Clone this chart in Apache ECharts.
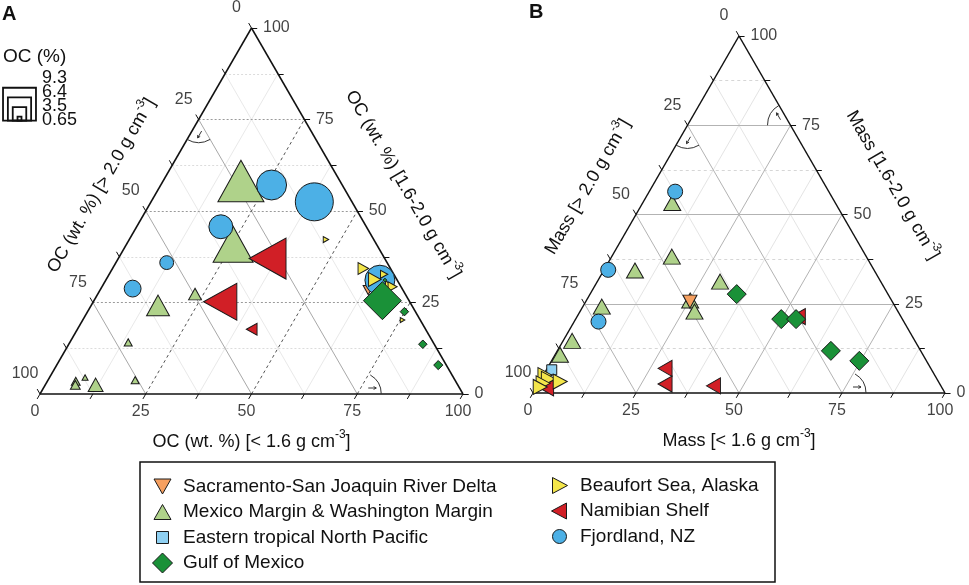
<!DOCTYPE html>
<html><head><meta charset="utf-8">
<script src="https://cdn.jsdelivr.net/npm/echarts@6/dist/echarts.min.js"></script>
<style>html,body{margin:0;padding:0;background:#fff}#c{width:969px;height:585px}</style>
</head><body><div id="c"></div>
<script>
// ---------- DATA ----------
// Panel A items: [<1.6 g cm-3 (bottom), >2.0 g cm-3 (left), 1.6-2.0 g cm-3 (right), OC %]
const A_sacramento = [[63.4, 8.2, 28.4, 2.5]];
const A_mexico = [
  [18.4, 23.4, 58.2, 13.2], [25.2, 33.9, 40.9, 11.4], [15.8, 60.0, 24.2, 6.3],
  [23.0, 49.7, 27.3, 3.3], [13.8, 72.1, 14.1, 1.85], [20.6, 75.6, 3.8, 1.85],
  [6.7, 89.8, 3.5, 2.1], [7.1, 90.4, 2.5, 2.4], [8.4, 87.1, 4.5, 1.25], [11.9, 85.6, 2.5, 3.9]
];
const A_etnp = [];
const A_gulf = [
  [68.2, 6.3, 25.5, 10.8], [74.9, 2.6, 22.5, 2.0], [83.7, 2.7, 13.6, 2.0],
  [90.2, 1.9, 7.9, 2.2], [66.0, 2.9, 31.1, 0.65]
];
const A_beaufort = [
  [46.5, 11.3, 42.2, 1.25], [59.3, 6.4, 34.3, 3.0], [63.5, 5.2, 31.3, 3.6],
  [65.0, 2.3, 32.7, 1.85], [68.0, 2.5, 29.5, 2.45], [68.7, 2.0, 29.3, 2.45], [75.6, 4.2, 20.2, 0.95]
];
const A_namibian = [[30.0, 44.8, 25.2, 10.5], [35.3, 27.7, 37.0, 11.7], [41.2, 41.1, 17.7, 3.0]];
const A_fjordland = [
  [26.2, 16.7, 57.1, 8.4], [38.6, 8.9, 52.5, 10.8], [19.9, 34.4, 45.7, 6.6],
  [12.0, 52.1, 35.9, 3.6], [7.5, 63.7, 28.8, 4.5], [64.8, 4.1, 31.1, 8.4]
];
// Panel B items: [<1.6 g cm-3 (bottom), >2.0 g cm-3 (left), 1.6-2.0 g cm-3 (right)] (mass %)
const B_sacramento = [[25.3, 49.1, 25.6]];
const B_mexico = [
  [7.2, 39.6, 53.2], [14.6, 47.2, 38.2], [7.6, 58.1, 34.3], [29.8, 39.0, 31.2], [4.6, 71.2, 24.2],
  [25.2, 48.9, 25.9], [27.8, 49.4, 22.8], [2.2, 83.2, 14.6], [1.2, 88.1, 10.7]
];
const B_etnp = [[1.3, 92.2, 6.5]];
const B_gulf = [[35.6, 36.7, 27.7], [49.9, 29.4, 20.7], [53.5, 25.8, 20.7], [66.4, 21.8, 11.8], [74.7, 16.3, 9.0]];
const B_beaufort = [[0.4, 94.6, 5.0], [1.75, 94.3, 3.95], [1.1, 96.2, 2.7], [5.0, 91.8, 3.2], [0.9, 97.4, 1.7]];
const B_namibian = [[28.6, 64.5, 6.9], [30.8, 66.7, 2.5], [42.8, 55.2, 2.0], [2.6, 96.0, 1.4], [53.7, 24.9, 21.4]];
const B_fjordland = [[6.3, 37.3, 56.4], [1.0, 64.5, 34.5], [5.9, 74.1, 20.0]];

const tickLabels = ['0', '25', '50', '75', '100'];
const tickValues = [0, 25, 50, 75, 100];
const minorTickValues = [12.5, 37.5, 62.5, 87.5];
const ocLegendValues = [9.3, 6.4, 3.5, 0.65];
const seriesNames = ['Sacramento-San Joaquin River Delta', 'Mexico Margin & Washington Margin',
  'Eastern tropical North Pacific', 'Gulf of Mexico', 'Beaufort Sea, Alaska', 'Namibian Shelf', 'Fjordland, NZ'];

// ---------- HELPERS ----------
const S = Math.sqrt(3) / 2;
function tern(a, c) { return [a + c / 2, c * S]; }
function ocSize(oc) { return 1.8 + 3.35 * oc; }
const FONT = "Arial, 'Liberation Sans', Helvetica, sans-serif";

const SYM = {
  up: 'path://M5,0 L10,9 L0,9 Z',
  down: 'path://M0,0 L10,0 L5,9 Z',
  left: 'path://M0,5 L9,0 L9,10 Z',
  right: 'path://M9,5 L0,0 L0,10 Z',
  diamond: 'path://M5,0 L10,5 L5,10 L0,5 Z',
  rect: 'rect',
  circle: 'circle'
};
const LEG_ICON = {
  down: 'path://M0,0 M20,20 M1.5,2.5 L18.5,2.5 L10,17.5 Z',
  up: 'path://M0,0 M20,20 M10,2.5 L18.5,17.5 L1.5,17.5 Z',
  rect: 'path://M0,0 M20,20 M4,4 L16,4 L16,16 L4,16 Z',
  diamond: 'path://M10,0 L20,10 L10,20 L0,10 Z',
  right: 'path://M0,0 M20,20 M3,2 L18,10 L3,18 Z',
  left: 'path://M0,0 M20,20 M2,10 L17,2 L17,18 Z',
  circle: 'path://M0,0 M20,20 M3,10 A7,7 0 1,1 17,10 A7,7 0 1,1 3,10 Z'
};
const groups = {
  sac: { name: seriesNames[0], color: '#f6a060', shape: 'down', A: A_sacramento, B: B_sacramento, bs: [14, 13] },
  mex: { name: seriesNames[1], color: '#afd28a', shape: 'up', A: A_mexico, B: B_mexico, bs: [17, 15] },
  etnp: { name: seriesNames[2], color: '#8fd0f2', shape: 'rect', A: A_etnp, B: B_etnp, bs: [10, 10] },
  gulf: { name: seriesNames[3], color: '#1a9138', shape: 'diamond', A: A_gulf, B: B_gulf, bs: [19, 19] },
  beau: { name: seriesNames[4], color: '#f4e64a', shape: 'right', A: A_beaufort, B: B_beaufort, bs: [14, 15] },
  nam: { name: seriesNames[5], color: '#d11f26', shape: 'left', A: A_namibian, B: B_namibian, bs: [14, 16] },
  fjord: { name: seriesNames[6], color: '#4cb0e6', shape: 'circle', A: A_fjordland, B: B_fjordland, bs: [15, 15] }
};
const drawOrder = ['mex', 'nam', 'sac', 'fjord', 'etnp', 'beau', 'gulf'];

function aspect(shape, s) {
  if (shape === 'up' || shape === 'down') return [s, s * 0.9];
  if (shape === 'left' || shape === 'right') return [s * 0.9, s];
  return [s, s];
}

const series = [];
function addLines(gi, data, color, type, width, z) {
  series.push({
    type: 'lines', coordinateSystem: 'cartesian2d', xAxisIndex: gi, yAxisIndex: gi,
    silent: true, clip: false, z: z || 1, animation: false,
    lineStyle: { color: color, width: width, type: type, opacity: 1 },
    data: data
  });
}
function gl(level, dir) {
  if (dir === 'c') return { coords: [tern(0, level), tern(100 - level, level)] };
  if (dir === 'a') return { coords: [tern(level, 0), tern(level, 100 - level)] };
  return { coords: [tern(100 - level, 0), tern(0, 100 - level)] };
}
const majorLv = [25, 50, 75];
const minorLv = [12.5, 37.5, 62.5, 87.5];

// Panel A grid
addLines(0, minorLv.map(v => gl(v, 'a')).concat(minorLv.map(v => gl(v, 'b'))), '#e9e9e9', 'solid', 1);
addLines(0, minorLv.map(v => gl(v, 'c')), '#dcdcdc', [2, 2], 1);
addLines(0, majorLv.map(v => gl(v, 'c')), '#9a9a9a', [2, 2], 1);
addLines(0, majorLv.map(v => gl(v, 'b')), '#a8a8a8', 'solid', 1);
addLines(0, majorLv.map(v => gl(v, 'a')), '#555555', [3, 3], 1);
// Panel B grid
addLines(1, minorLv.map(v => gl(v, 'a')).concat(minorLv.map(v => gl(v, 'b'))), '#e4e4e4', 'solid', 1);
addLines(1, minorLv.map(v => gl(v, 'c')), '#d6d6d6', [3, 3], 1);
addLines(1, majorLv.map(v => gl(v, 'a')).concat(majorLv.map(v => gl(v, 'b')), majorLv.map(v => gl(v, 'c'))), '#b3b3b3', 'solid', 1);

// Outline + ticks
const TL = 1.35;
for (let gi = 0; gi < 2; gi++) {
  addLines(gi, [
    { coords: [tern(0, 0), tern(100, 0)] },
    { coords: [tern(100, 0), tern(0, 100)] },
    { coords: [tern(0, 100), tern(0, 0)] }
  ], '#111', 'solid', 1.5, 3);
  const tk = [];
  tickValues.concat(minorTickValues).forEach(v => {
    const pb = tern(v, 0); tk.push({ coords: [pb, [pb[0] - 0.5 * TL, pb[1] - S * TL]] });
    const pl = tern(0, 100 - v); tk.push({ coords: [pl, [pl[0] - 0.5 * TL, pl[1] + S * TL]] });
    const pr = tern(100 - v, v); tk.push({ coords: [pr, [pr[0] + TL, pr[1]]] });
  });
  addLines(gi, tk, '#111', 'solid', 1, 3);
  // tick labels
  const lblStyle = { show: true, formatter: '{b}', fontSize: 16, color: '#111', fontFamily: FONT };
  series.push({
    type: 'scatter', xAxisIndex: gi, yAxisIndex: gi, clip: false, silent: true, symbol: 'circle', symbolSize: 1,
    itemStyle: { color: 'rgba(0,0,0,0)' }, z: 4,
    label: Object.assign({}, lblStyle, { position: 'inside', offset: [-5, 18] }),
    data: tickValues.map((v, i) => ({ name: tickLabels[i], value: tern(v, 0) }))
  });
  series.push({
    type: 'scatter', xAxisIndex: gi, yAxisIndex: gi, clip: false, silent: true, symbol: 'circle', symbolSize: 1,
    itemStyle: { color: 'rgba(0,0,0,0)' }, z: 4,
    label: Object.assign({}, lblStyle, { position: 'inside', offset: [-15, -20] }),
    data: tickValues.map((v, i) => ({ name: tickLabels[i], value: tern(0, 100 - v) }))
  });
  series.push({
    type: 'scatter', xAxisIndex: gi, yAxisIndex: gi, clip: false, silent: true, symbol: 'circle', symbolSize: 1,
    itemStyle: { color: 'rgba(0,0,0,0)' }, z: 4,
    label: Object.assign({}, lblStyle, { position: 'right', distance: 11 }),
    data: tickValues.map((v, i) => ({ name: tickLabels[i], value: tern(100 - v, v) }))
  });
}

// Markers
drawOrder.forEach(k => {
  const g = groups[k];
  series.push({
    name: g.name, type: 'scatter', xAxisIndex: 0, yAxisIndex: 0, clip: false, z: 5,
    symbol: SYM[g.shape],
    symbolSize: v => aspect(g.shape, ocSize(v[2])),
    itemStyle: { color: g.color, borderColor: '#1a1a1a', borderWidth: 1, opacity: 1 },
    data: g.A.map(d => tern(d[0], d[2]).concat([d[3]]))
  });
  series.push({
    name: g.name, type: 'scatter', xAxisIndex: 1, yAxisIndex: 1, clip: false, z: 5,
    symbol: SYM[g.shape], symbolSize: g.bs,
    itemStyle: { color: g.color, borderColor: '#1a1a1a', borderWidth: 1, opacity: 1 },
    data: g.B.map(d => tern(d[0], d[2]))
  });
});

const legendKeys1 = ['sac', 'mex', 'etnp', 'gulf'];
const legendKeys2 = ['beau', 'nam', 'fjord'];
function legendCfg(keys, left, top) {
  return {
    orient: 'vertical', left: left, top: top, padding: 0, itemWidth: 31, itemHeight: 20, itemGap: 4.5,
    selectedMode: false, symbolKeepAspect: true,
    itemStyle: { borderColor: '#1a1a1a', borderWidth: 1 },
    textStyle: { fontSize: 19, color: '#111', fontFamily: FONT },
    data: keys.map(k => ({ name: groups[k].name, icon: LEG_ICON[groups[k].shape] }))
  };
}

const axisCommon = { show: false, min: 0, splitLine: { show: false } };
const option = {
  animation: false,
  backgroundColor: '#fff',
  grid: [
    { left: 40, top: 28, width: 423, height: 366 },
    { left: 533, top: 36, width: 412, height: 357 }
  ],
  xAxis: [Object.assign({ type: 'value', max: 100, gridIndex: 0 }, axisCommon), Object.assign({ type: 'value', max: 100, gridIndex: 1 }, axisCommon)],
  yAxis: [Object.assign({ type: 'value', max: 100 * S, gridIndex: 0 }, axisCommon), Object.assign({ type: 'value', max: 100 * S, gridIndex: 1 }, axisCommon)],
  legend: [legendCfg(legendKeys1, 152, 476), legendCfg(legendKeys2, 549, 475)],
  series: series
};

const chart = echarts.init(document.getElementById('c'), null, { renderer: 'canvas' });
chart.setOption(option);

// ---------- Decorations (positions derived from the axes) ----------
function px(gi, a, c) { return chart.convertToPixel({ gridIndex: gi }, tern(a, c)); }
const g = [];
const supRich = { s: { fontSize: 12, verticalAlign: 'top', lineHeight: 12, fontFamily: FONT, fill: '#111' } };
function title(x, y, rot, text) {
  g.push({ type: 'text', x: x, y: y, rotation: rot, z: 10,
    style: { text: text, fontSize: 18, lineHeight: 26, fontFamily: FONT, fill: '#111', align: 'center', verticalAlign: 'middle', rich: supRich } });
}
const titles = [
  ['OC (wt. %) [< 1.6 g cm{s|-3}]', 'OC (wt. %) [> 2.0 g cm{s|-3}]', 'OC (wt. %) [1.6-2.0 g cm{s|-3}]', 51, 53],
  ['Mass [< 1.6 g cm{s|-3}]', 'Mass [> 2.0 g cm{s|-3}]', 'Mass [1.6-2.0 g cm{s|-3}]', 55.5, 58.5]
];
for (let gi = 0; gi < 2; gi++) {
  const t = titles[gi];
  const pb = px(gi, 50, 0); title(pb[0], pb[1] + 48, 0, t[0]);
  const pl = px(gi, 0, 50); title(pl[0] - S * t[3], pl[1] - 0.5 * t[3], Math.PI / 3, t[1]);
  const pr = px(gi, 50, 50); title(pr[0] + S * t[4], pr[1] - 0.5 * t[4], -Math.PI / 3, t[2]);
}
function arc(cx, cy, r, s, e) {
  g.push({ type: 'arc', z: 10, shape: { cx: cx, cy: cy, r: r, startAngle: s * Math.PI / 180, endAngle: e * Math.PI / 180, clockwise: true },
    style: { stroke: '#333', fill: null, lineWidth: 1 } });
}
function arrow(x, y, angDeg, len) {
  const a = angDeg * Math.PI / 180, dx = Math.cos(a), dy = Math.sin(a);
  const x1 = x - dx * len / 2, y1 = y - dy * len / 2, x2 = x + dx * len / 2, y2 = y + dy * len / 2;
  const h = 3, w = 0.5;
  g.push({ type: 'polyline', z: 10, shape: { points: [[x1, y1], [x2, y2]] }, style: { stroke: '#333', lineWidth: 1 } });
  g.push({ type: 'polyline', z: 10, shape: { points: [
    [x2 - h * Math.cos(a - w), y2 - h * Math.sin(a - w)], [x2, y2], [x2 - h * Math.cos(a + w), y2 - h * Math.sin(a + w)]] },
    style: { stroke: '#333', lineWidth: 1, fill: null } });
}
// Panel A: left (b=25) and bottom (a=75)
let p = px(0, 0, 75); arc(p[0], p[1], 23, 60, 120); arrow(p[0] + 1, p[1] + 15, 120, 8);
p = px(0, 75, 0); arc(p[0] + 2, p[1], 22, -60, 0); arrow(p[0] + 15, p[1] - 6, 0, 8);
// Panel B: left, right (c=75), bottom
p = px(1, 0, 75); arc(p[0], p[1], 23, 60, 120); arrow(p[0] + 1, p[1] + 15, 120, 8);
p = px(1, 25, 75); arc(p[0], p[1], 23, 180, 240); arrow(p[0] - 12, p[1] - 9, 240, 8);
p = px(1, 75, 0); arc(p[0] + 2, p[1], 22, -60, 0); arrow(p[0] + 15, p[1] - 6, 0, 8);

// Panel letters
g.push({ type: 'text', x: 2, y: 14.5, z: 10, style: { text: 'A', fontSize: 20, fontWeight: 'bold', fontFamily: FONT, fill: '#111', verticalAlign: 'middle' } });
g.push({ type: 'text', x: 529, y: 12, z: 10, style: { text: 'B', fontSize: 20, fontWeight: 'bold', fontFamily: FONT, fill: '#111', verticalAlign: 'middle' } });
// OC size legend
g.push({ type: 'text', x: 3, y: 57, z: 10, style: { text: 'OC (%)', fontSize: 19, fontFamily: FONT, fill: '#111', verticalAlign: 'middle' } });
const labY = [78, 92, 106.5, 120];
ocLegendValues.forEach((v, i) => {
  const s = ocSize(v);
  g.push({ type: 'rect', z: 10, shape: { x: 19.5 - s / 2, y: 120.7 - s, width: s, height: s }, style: { stroke: '#111', fill: null, lineWidth: 1.8 } });
  g.push({ type: 'text', x: 42, y: labY[i], z: 10, style: { text: String(v), fontSize: 18, fontFamily: FONT, fill: '#111', verticalAlign: 'middle' } });
});
// legend frame
g.push({ type: 'rect', z: 0, shape: { x: 140, y: 462, width: 635, height: 120 }, style: { stroke: '#111', fill: null, lineWidth: 1.5 } });

chart.setOption({ graphic: g });
</script>
</body></html>
